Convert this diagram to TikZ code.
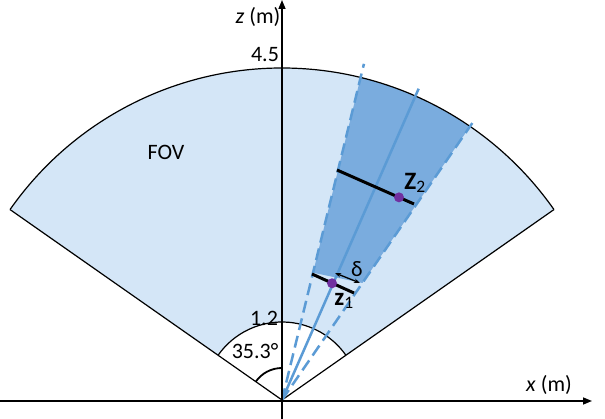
\documentclass[tikz,border=0pt]{standalone}
\usepackage{fontspec}
\setmainfont{Carlito}
\usetikzlibrary{arrows.meta}
\definecolor{fovlight}{RGB}{212,230,247}
\definecolor{fovdark}{RGB}{122,172,222}
\definecolor{raycol}{RGB}{91,155,213}
\definecolor{dotcol}{RGB}{112,48,160}

\begin{document}
\begin{tikzpicture}[x=1pt,y=1pt,font=\fontsize{22}{26}\selectfont]
	\useasboundingbox (-282,-19) rectangle (323,400);
	% Определение координат
	\coordinate (O) at (0,0);
	\coordinate (xs) at (-282,-1);
	\coordinate (xe) at (310,-1);
	\coordinate (zs) at (0,-19);
	\coordinate (ze) at (0,400);
	\coordinate (Rl) at (145:332);
	\coordinate (Rr) at (35:332);
	\coordinate (rl) at (145:78);
	\coordinate (rr) at (35:78);
	\coordinate (Ray) at (66.3:340);
	\coordinate (DashL) at (76.3:346);
	\coordinate (DashR) at (55.5:341);
	\coordinate (Z1) at (66.8:127);
	\coordinate (Z2) at (60:234);
	\coordinate (B1a) at (30,126);
	\coordinate (B1b) at (72,107);
	\coordinate (B2a) at (55,230);
	\coordinate (B2b) at (132,196);
	\coordinate (Da) at (53,127);
	\coordinate (Db) at (78,117);
	
	% Поле зрения
	\fill[fovlight] (O) -- (Rl) arc[start angle=145, end angle=35, radius=332] -- cycle;
	\fill[fovdark] (76.3:131) -- (76.3:332) arc[start angle=76.3, end angle=55.5, radius=332] -- (55.5:142) -- cycle;
	\fill[white] (O) -- (rl) arc[start angle=145, end angle=35, radius=78] -- cycle;
	\draw[line width=1.2pt] (Rl) -- (O) -- (Rr);
	\draw[line width=1.2pt] (Rl) arc[start angle=145, end angle=35, radius=332];
	\draw[line width=1.2pt] (rl) arc[start angle=145, end angle=35, radius=78];
	
	% Лучи
	\draw[raycol, line width=2.5pt] (O) -- (Ray);
	\draw[raycol, line width=2.5pt, dash pattern=on 12pt off 6pt] (O) -- (DashL);
	\draw[raycol, line width=2.5pt, dash pattern=on 12pt off 6pt] (O) -- (DashR);
	
	% Оси
	\draw[line width=1.5pt, -{Triangle[length=9pt,width=7pt]}] (xs) -- (xe);
	\draw[line width=1.5pt, -{Triangle[length=9pt,width=7pt]}] (zs) -- (ze);
	\draw[line width=1.8pt] (90:32) arc[start angle=90, end angle=145, radius=32];
	
	% Отрезки и точки
	\draw[line width=3pt] (B1a) -- (B1b);
	\draw[line width=3pt] (B2a) -- (B2b);
	\draw[line width=1.3pt, {Stealth[length=6pt]}-{Stealth[length=6pt]}] (Da) -- (Db);
	\fill[dotcol] (Z1) circle (5);
	\fill[dotcol] (Z2) circle (5);
	
	% Подписи
	\node (zlab) at (-24,383) {\textit{z} (m)};
	\node (xlab) at (267,15) {\textit{x} (m)};
	\node (outer) at (-17,345) {4.5};
	\node (inner) at (-18,82) {1.2};
	\node (ang) at (-27,49) {35.3°};
	\node (fov) at (-116,248) {FOV};
	\node[font=\fontsize{25}{28}\selectfont] (z1lab) at (62,99) {\textbf{z}\textsubscript{1}};
	\node[font=\fontsize{25}{28}\selectfont] (z2lab) at (133,217) {\textbf{Z}\textsubscript{2}};
	\node (dlab) at (75,131) {δ};
\end{tikzpicture}
\end{document}
